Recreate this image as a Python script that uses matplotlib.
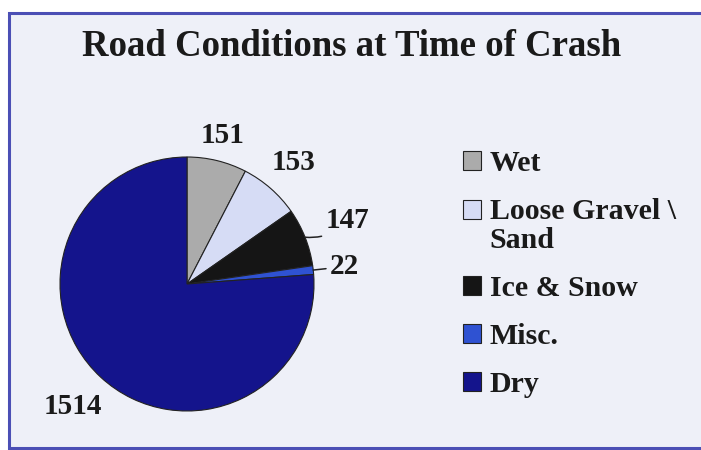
import numpy as np
import matplotlib.pyplot as plt
from matplotlib.patches import Rectangle
from matplotlib.legend_handler import HandlerPatch

# data
categories = ['Wet', 'Loose Gravel \\\nSand', 'Ice & Snow', 'Misc.', 'Dry']
counts = [151, 153, 147, 22, 1514]
colors = ['#ababab', '#d6dcf5', '#151515', '#2f52d2', '#14148c']

# label placement (radial distance, in pie radii)
label_dist = [1.2, 1.27, 1.36, 1.25, 1.32]

plt.rcParams['font.family'] = ['Liberation Serif', 'DejaVu Serif']
plt.rcParams['font.weight'] = 'bold'

fig = plt.figure(figsize=(7.01, 4.5), dpi=100)
W, H = 701, 450

# panel background with blue frame
fig.patches.append(Rectangle((9 / W, 2 / H), 1.0, 435 / H, transform=fig.transFigure,
                             facecolor='#eef0f8', edgecolor='#4b4fb5', linewidth=2.2,
                             zorder=-1))

fig.text(352 / W, 1 - 47 / H, 'Road Conditions at Time of Crash',
         ha='center', va='center', fontsize=26.5, fontweight='bold', color='#1a1a1a')

# pie axes: center (187, 284) px, radius 127 px
cx, cy, r = 187, 284, 127
ax = fig.add_axes([(cx - r) / W, (H - cy - r) / H, 2 * r / W, 2 * r / H])
wedges, _ = ax.pie(counts, colors=colors, startangle=90, counterclock=False,
                   radius=1, wedgeprops=dict(edgecolor='#222222', linewidth=0.8))
ax.set_xlim(-1, 1)
ax.set_ylim(-1, 1)
ax.set_aspect('auto')
ax.axis('off')

for i, w in enumerate(wedges):
    mid = np.deg2rad((w.theta1 + w.theta2) / 2)
    d = label_dist[i]
    x, y = d * np.cos(mid), d * np.sin(mid)
    if counts[i] in (147, 22):
        ex, ey = np.cos(mid), np.sin(mid)
        cs = 'arc3,rad=-0.25' if counts[i] == 147 else 'arc3,rad=0'
        ax.annotate(str(counts[i]), xy=(ex, ey), xytext=(x, y),
                    ha='center', va='center', fontsize=21, fontweight='bold',
                    color='#1a1a1a', annotation_clip=False,
                    arrowprops=dict(arrowstyle='-', color='#222222', lw=1.1,
                                    shrinkA=1, shrinkB=0, connectionstyle=cs))
    else:
        ax.text(x, y, str(counts[i]), ha='center', va='center', fontsize=21,
                fontweight='bold', color='#1a1a1a', clip_on=False)


# legend swatches sit on the first text line, also for the two-line entry
def swatch(legend, orig_handle, xdescent, ydescent, width, height, fontsize):
    lines = 1
    for h, lab in zip(wedges, categories):
        if h is orig_handle:
            lines = lab.count('\n') + 1
    shift = (lines - 1) * 0.55 * fontsize
    return Rectangle((-xdescent, -ydescent + shift), width, height)


leg = fig.legend(wedges, categories, loc='upper left',
                 bbox_to_anchor=(436 / W, 1 - 123 / H), frameon=False,
                 fontsize=21.5, handlelength=0.6, handleheight=0.6,
                 handletextpad=0.3, labelspacing=0.7,
                 handler_map={w: HandlerPatch(patch_func=swatch) for w in wedges})
for t in leg.get_texts():
    t.set_fontweight('bold')
    t.set_color('#1a1a1a')
    t.set_linespacing(1.1)

fig.savefig('out.png', dpi=100)
